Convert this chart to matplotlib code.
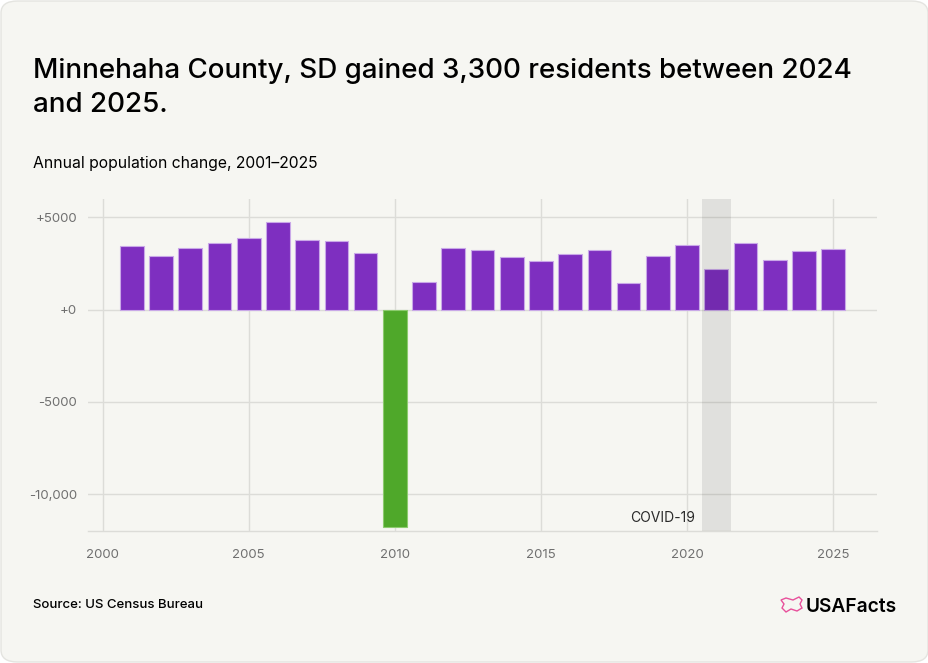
import matplotlib
matplotlib.use("Agg")
import matplotlib.pyplot as plt
from matplotlib.patches import FancyBboxPatch, Polygon
from matplotlib.ticker import FixedLocator, FixedFormatter

years = list(range(2001, 2026))
change = [3470, 2900, 3330, 3600, 3900, 4730, 3790, 3700, 3080, -11780,
          1510, 3330, 3220, 2840, 2630, 3000, 3220, 1460, 2900,
          3520, 2190, 3610, 2700, 3180, 3300]
y_ticks = [5000, 0, -5000, -10000]
y_tick_labels = ["+5000", "+0", "-5000", "-10,000"]
x_ticks = [2000, 2005, 2010, 2015, 2020, 2025]
covid_span = (2020.5, 2021.5)

PURPLE = "#7E2FC0"
GREEN = "#4FA82A"
BG = "#F6F6F2"

plt.rcParams["font.family"] = ["Inter", "DejaVu Sans"]

W, H = 929, 663
fig = plt.figure(figsize=(W / 100, H / 100), dpi=100)
fig.patch.set_facecolor("white")

panel = FancyBboxPatch((1 / W, 1 / H), 1 - 2 / W, 1 - 2 / H,
                       boxstyle="round,pad=0,rounding_size=0.018",
                       transform=fig.transFigure, facecolor=BG,
                       edgecolor="#E4E4E0", linewidth=1, zorder=-10)
fig.patches.append(panel)

ax = fig.add_axes([88 / W, (H - 531) / H, (877 - 88) / W, (531 - 199) / H])
ax.set_zorder(1)
ax.patch.set_alpha(0)

colors = [GREEN if v < 0 else PURPLE for v in change]
bars = ax.bar(years, change, width=0.81, color=colors, edgecolor="#C9A8E8",
              linewidth=0.8, zorder=3)
for b, v in zip(bars, change):
    if v < 0:
        b.set_edgecolor("#8CCB6E")

ax.axvspan(covid_span[0], covid_span[1], color="black", alpha=0.085,
           linewidth=0, zorder=4)
ax.text(covid_span[0] - 0.22, -11300, "COVID-19", ha="right", va="center",
        fontsize=10, color="#2a2a2a", zorder=5)

ax.set_xlim(1999.5, 2026.5)
ax.set_ylim(-12000, 6000)

ax.yaxis.set_major_locator(FixedLocator(y_ticks))
ax.yaxis.set_major_formatter(FixedFormatter(y_tick_labels))
ax.xaxis.set_major_locator(FixedLocator(x_ticks))

ax.set_axisbelow(True)
ax.grid(True, color="#DCDCD8", linewidth=1)
for s in ["top", "right", "left"]:
    ax.spines[s].set_visible(False)
ax.spines["bottom"].set_color("#DCDCD8")
ax.spines["bottom"].set_linewidth(1)
ax.tick_params(axis="both", length=0, labelsize=9.5, labelcolor="#707070")
ax.tick_params(axis="x", pad=13)
ax.tick_params(axis="y", pad=8)

fig.text(33 / W, 1 - 78 / H, "Minnehaha County, SD gained 3,300 residents between 2024",
         fontsize=20, fontweight="medium", color="black", va="baseline")
fig.text(33 / W, 1 - 112 / H, "and 2025.",
         fontsize=20, fontweight="medium", color="black", va="baseline")
fig.text(33 / W, 1 - 168 / H, "Annual population change, 2001\u20132025",
         fontsize=11.3, color="black", va="baseline")
fig.text(33 / W, 1 - 608 / H, "Source: US Census Bureau",
         fontsize=9.5, fontweight="medium", color="black", va="baseline")
fig.text(806 / W, 1 - 612 / H, "USAFacts", fontsize=13.8, fontweight="semibold",
         color="black", va="baseline")

pts = [(781, 600), (786, 598), (793, 600), (799, 597), (802, 600), (800, 604),
       (802, 608), (797, 611), (791, 609), (786, 612), (782, 608), (784, 604)]
logo = Polygon([(x / W, 1 - y / H) for x, y in pts], closed=True,
               transform=fig.transFigure, facecolor="none",
               edgecolor="#E8509B", linewidth=1.0, zorder=5)
fig.patches.append(logo)

fig.savefig("out.png", dpi=100, facecolor=fig.get_facecolor())
